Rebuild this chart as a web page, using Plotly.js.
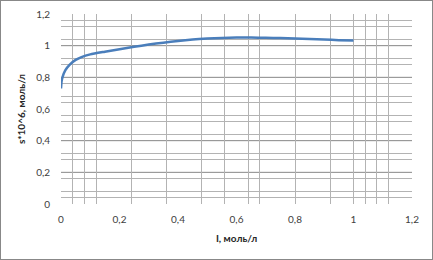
<!DOCTYPE html>
<html>
<head>
<meta charset="utf-8">
<script src="https://cdn.plot.ly/plotly-3.0.1.min.js"></script>
<style>
html,body{margin:0;padding:0;background:#fff;}
#wrap{width:433px;height:260px;box-sizing:border-box;border:1px solid #888;overflow:hidden;}
#chart{width:431px;height:258px;}
</style>
</head>
<body>
<div id="wrap"><div id="chart"></div></div>
<script>
// Data
const conc = [0, 0.002, 0.005, 0.015, 0.03, 0.05, 0.07, 0.1, 0.15, 0.2, 0.25, 0.3, 0.35, 0.4, 0.45, 0.5, 0.55, 0.6, 0.65, 0.7, 0.75, 0.8, 0.85, 0.9, 0.95, 1.0];
const sVal = [0.73, 0.775, 0.80, 0.845, 0.88, 0.91, 0.928, 0.945, 0.962, 0.978, 0.993, 1.007, 1.019, 1.03, 1.039, 1.045, 1.049, 1.051, 1.051, 1.05, 1.048, 1.045, 1.042, 1.039, 1.035, 1.033];

const xTicks = [0, 0.2, 0.4, 0.6, 0.8, 1.0, 1.2];
const xTickText = ["0", "0,2", "0,4", "0,6", "0,8", "1", "1,2"];
const yTicks = [0, 0.2, 0.4, 0.6, 0.8, 1.0, 1.2];
const yTickText = ["0", "0,2", "0,4", "0,6", "0,8", "1", "1,2"];

// visible gridlines in the picture
const xGrid = [0.04, 0.08, 0.12, 0.24, 0.36, 0.48, 0.56, 0.64, 0.68, 0.80, 0.92, 1.00, 1.04, 1.08, 1.12, 1.2];
const yGridLight = [1.16, 1.12, 1.04, 0.92, 0.88, 0.76, 0.68, 0.64, 0.56, 0.52, 0.44, 0.32, 0.28, 0.16, 0.08, 0.04];
const yGridDark = [1.0, 0.8, 0.4, 0.2];

const fontFam = "Lato, 'Open Sans', sans-serif";

const trace = {
  x: conc, y: sVal, type: 'scatter', mode: 'lines',
  line: {color: '#4a7ebb', width: 2.5, shape: 'spline', smoothing: 0.6},
  hoverinfo: 'skip', showlegend: false
};

const shapes = yGridDark.map(v => ({
  type: 'line', xref: 'paper', yref: 'y', x0: 0, x1: 1, y0: v, y1: v,
  line: {color: '#878787', width: 1}, layer: 'below'
}));

const layout = {
  width: 431, height: 258,
  margin: {l: 60, r: 20, t: 13, b: 55},
  paper_bgcolor: '#fff', plot_bgcolor: '#fff',
  font: {family: fontFam, size: 10, color: '#404040'},
  showlegend: false,
  xaxis: {
    range: [0, 1.2], tickmode: 'array', tickvals: xTicks, ticktext: xTickText,
    showgrid: false, zeroline: false, showline: false, ticks: '',
    ticklabelstandoff: 8, fixedrange: true,
    tickfont: {family: fontFam, size: 10, color: '#404040'},
    minor: {tickmode: 'array', tickvals: xGrid, showgrid: true, gridcolor: '#b3b3b3', gridwidth: 1, ticks: ''},
    title: {text: 'I, моль/л', font: {family: fontFam, size: 10, color: '#262626', weight: 'bold'}, standoff: 10}
  },
  yaxis: {
    range: [0, 1.2], tickmode: 'array', tickvals: yTicks, ticktext: yTickText,
    showgrid: false, zeroline: false, showline: false, ticks: '',
    ticklabelstandoff: 10, fixedrange: true,
    tickfont: {family: fontFam, size: 10, color: '#404040'},
    minor: {tickmode: 'array', tickvals: yGridLight, showgrid: true, gridcolor: '#b3b3b3', gridwidth: 1, ticks: ''},
    title: {text: 's*10^6, моль/л', font: {family: fontFam, size: 10, color: '#262626', weight: 'bold'}, standoff: 8}
  },
  shapes: shapes
};

Plotly.newPlot('chart', [trace], layout, {displayModeBar: false, staticPlot: true});
</script>
</body>
</html>
